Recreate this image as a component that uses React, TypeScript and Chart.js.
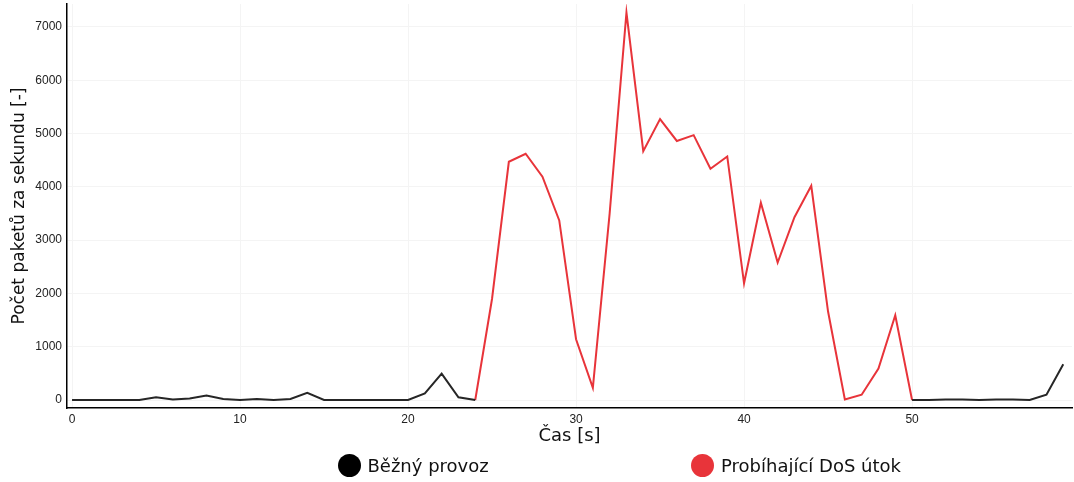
import React, { useEffect, useRef } from "react";
import { Chart, registerables } from "chart.js";

Chart.register(...registerables);

const seconds: number[] = Array.from({ length: 60 }, (_, i) => i);

const xTickValues: number[] = [0, 10, 20, 30, 40, 50];
const yTickValues: number[] = [0, 1000, 2000, 3000, 4000, 5000, 6000, 7000];

const normalTraffic: (number | null)[] = [
  0, 0, 0, 0, 0, 50, 10, 30, 85, 20,
  0, 20, 0, 20, 135, 0, 0, 0, 0, 0,
  0, 125, 495, 50, 0, null, null, null, null, null,
  null, null, null, null, null, null, null, null, null, null,
  null, null, null, null, null, null, null, null, null, null,
  0, 0, 10, 10, 0, 10, 10, 0, 100, 670,
];

const dosAttack: (number | null)[] = [
  null, null, null, null, null, null, null, null, null, null,
  null, null, null, null, null, null, null, null, null, null,
  null, null, null, null, 0, 1900, 4470, 4620, 4190, 3370,
  1140, 230, 3500, 7270, 4670, 5270, 4860, 4970, 4340, 4570,
  2190, 3700, 2580, 3430, 4020, 1660, 10, 100, 590, 1590,
  0, null, null, null, null, null, null, null, null, null,
];

const seriesNames = ["Běžný provoz", "Probíhající DoS útok"];
const seriesColors = ["#262626", "#e8343a"];
const legendColors = ["#000000", "#e8343a"];

const FONT = "'DejaVu Sans', Verdana, sans-serif";
const TICK_FONT = "'Liberation Sans', Arial, sans-serif";

export default function App() {
  const ref = useRef<HTMLCanvasElement | null>(null);

  useEffect(() => {
    if (!ref.current) return;
    const toPts = (arr: (number | null)[]) =>
      seconds.map((s, i) => ({ x: s, y: arr[i] }));
    const chart = new Chart(ref.current, {
      type: "line",
      data: {
        datasets: [
          {
            label: seriesNames[0],
            data: toPts(normalTraffic) as any,
            borderColor: seriesColors[0],
            borderWidth: 2,
            pointRadius: 0,
            tension: 0,
            spanGaps: false,
          },
          {
            label: seriesNames[1],
            data: toPts(dosAttack) as any,
            borderColor: seriesColors[1],
            borderWidth: 2,
            pointRadius: 0,
            tension: 0,
            spanGaps: false,
          },
        ],
      },
      options: {
        animation: false,
        responsive: false,
        layout: { padding: { top: 4, right: 2, left: 0, bottom: 34 } },
        plugins: { legend: { display: false }, tooltip: { enabled: false } },
        scales: {
          x: {
            type: "linear",
            min: -0.3,
            max: 59.52,
            border: { color: "#000", width: 1.5 },
            grid: { color: "#f4f4f4", drawTicks: false },
            afterBuildTicks: (s: any) => {
              s.ticks = xTickValues.map((v) => ({ value: v }));
            },
            ticks: {
              padding: 4,
              maxRotation: 0,
              autoSkip: false,
              color: "#222",
              font: { family: TICK_FONT, size: 12 },
            },
            title: {
              display: true,
              text: "Čas [s]",
              color: "#111",
              font: { family: FONT, size: 18 },
              padding: { top: 0, bottom: 1 },
            },
            afterFit: (s: any) => {
              s.height = 40;
              s.paddingLeft = 0;
              s.paddingRight = 0;
            },
          },
          y: {
            type: "linear",
            min: -150,
            max: 7430,
            border: { color: "#000", width: 1.5 },
            grid: { color: "#f4f4f4", drawTicks: false },
            afterBuildTicks: (s: any) => {
              s.ticks = yTickValues.map((v) => ({ value: v }));
            },
            ticks: {
              padding: 5,
              autoSkip: false,
              color: "#222",
              font: { family: TICK_FONT, size: 12 },
              callback: (v: any) => String(v),
            },
            title: {
              display: true,
              text: "Počet paketů za sekundu [-]",
              color: "#111",
              font: { family: FONT, size: 17 },
              padding: { top: 9, bottom: 0 },
            },
            afterFit: (s: any) => {
              s.width = 67;
              s.paddingTop = 0;
              s.paddingBottom = 0;
            },
          },
        },
      },
    });
    return () => chart.destroy();
  }, []);

  const legendItems = [
    { name: seriesNames[0], color: legendColors[0], cx: 349 },
    { name: seriesNames[1], color: legendColors[1], cx: 702.5 },
  ];

  return (
    <div
      style={{
        position: "absolute",
        left: 0,
        top: 0,
        width: 1074,
        height: 482,
        background: "#fff",
        overflow: "hidden",
      }}
    >
      <canvas ref={ref} width={1074} height={482} style={{ display: "block" }} />
      {legendItems.map((it) => (
        <div
          key={it.name}
          style={{
            position: "absolute",
            left: it.cx - 11.5,
            top: 465 - 11.5,
            height: 23,
            display: "flex",
            alignItems: "center",
            whiteSpace: "nowrap",
          }}
        >
          <span
            style={{
              width: 23,
              height: 23,
              borderRadius: "50%",
              background: it.color,
              display: "inline-block",
              marginRight: 7,
            }}
          />
          <span style={{ fontFamily: FONT, fontSize: 18, color: "#111", lineHeight: "23px" }}>
            {it.name}
          </span>
        </div>
      ))}
    </div>
  );
}
